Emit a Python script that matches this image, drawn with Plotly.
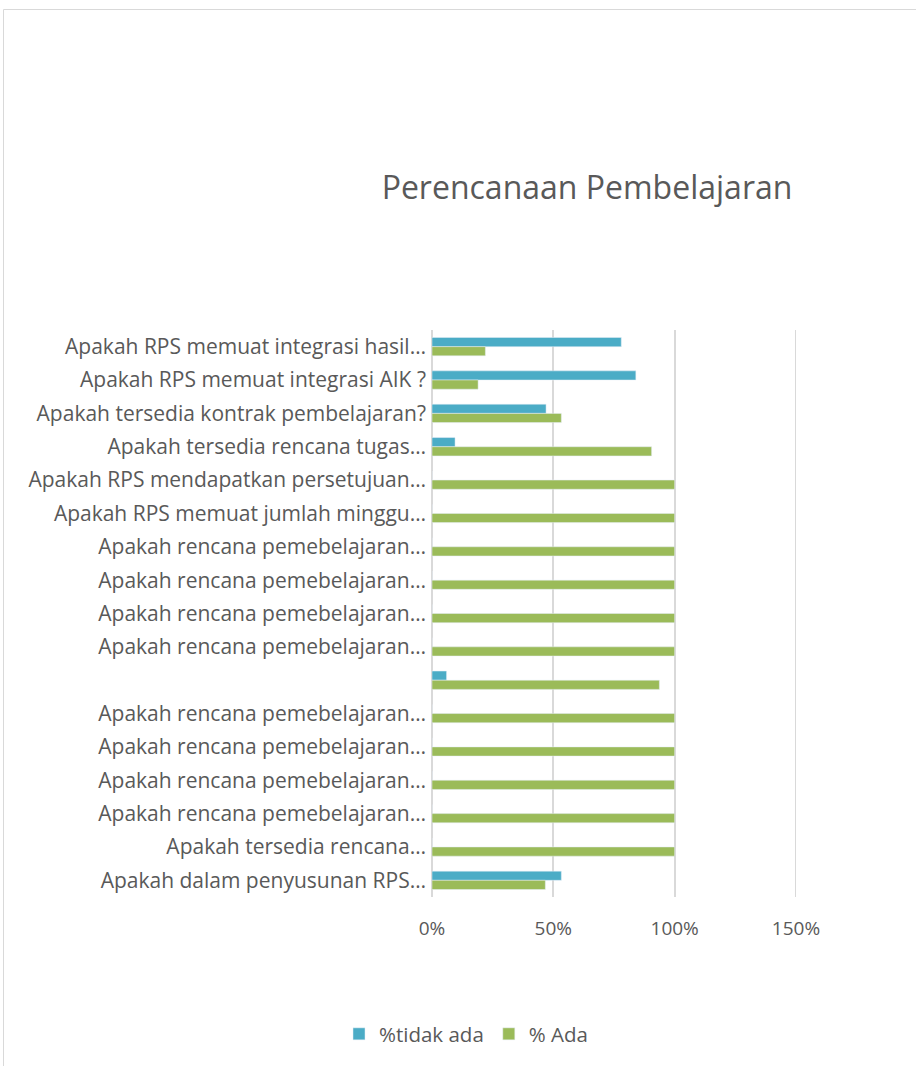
import plotly.graph_objects as go

labels = [
    "Apakah RPS memuat integrasi hasil…",
    "Apakah RPS memuat integrasi AIK ?",
    "Apakah tersedia kontrak pembelajaran?",
    "Apakah tersedia rencana tugas…",
    "Apakah RPS mendapatkan persetujuan…",
    "Apakah RPS memuat jumlah minggu…",
    "Apakah rencana pemebelajaran…",
    "Apakah rencana pemebelajaran…",
    "Apakah rencana pemebelajaran…",
    "Apakah rencana pemebelajaran…",
    "",
    "Apakah rencana pemebelajaran…",
    "Apakah rencana pemebelajaran…",
    "Apakah rencana pemebelajaran…",
    "Apakah rencana pemebelajaran…",
    "Apakah tersedia rencana…",
    "Apakah dalam penyusunan RPS…",
]
tidak_ada = [0.78, 0.84, 0.47, 0.095, 0, 0, 0, 0, 0, 0, 0.06, 0, 0, 0, 0, 0, 0.533]
ada = [0.22, 0.19, 0.533, 0.905, 1, 1, 1, 1, 1, 1, 0.937, 1, 1, 1, 1, 1, 0.467]
x_ticks = [0, 0.5, 1.0, 1.5]
x_tick_text = ["0%", "50%", "100%", "150%"]

pos = list(range(len(labels)))
font = "Open Sans, Segoe UI, sans-serif"
grey = "#595959"
gridc = "#d9d9d9"

fig = go.Figure()
fig.add_trace(go.Bar(y=pos, x=tidak_ada, orientation="h", name="%tidak ada",
                     marker=dict(color="#4BACC6")))
fig.add_trace(go.Bar(y=pos, x=ada, orientation="h", name="% Ada",
                     marker=dict(color="#9BBB59")))

W, H = 916, 1066
L, R, T, B = 432, 796, 330, 897

def px(x):
    return (x - L) / (R - L)

def py(y):
    return (B - y) / (B - T)

fig.update_layout(
    width=W, height=H,
    margin=dict(l=L, r=W - R, t=T, b=H - B, autoexpand=False),
    paper_bgcolor="white", plot_bgcolor="white",
    barmode="group", bargap=0.45, bargroupgap=0.0,
    font=dict(family=font, color=grey, size=19),
    title=dict(text="Perencanaan Pembelajaran", x=587 / W, xanchor="center",
               y=1 - 188 / H, yanchor="middle",
               font=dict(size=32, color=grey, family=font)),
    xaxis=dict(range=[0, 1.5], tickvals=x_ticks, ticktext=x_tick_text,
               showgrid=True, gridcolor=gridc, gridwidth=2,
               zeroline=False, showline=False, ticks="",
               ticklabelstandoff=18,
               tickfont=dict(size=19, color=grey)),
    yaxis=dict(tickvals=pos, ticktext=labels, autorange="reversed",
               showgrid=False, zeroline=False, ticks="", showline=False,
               ticklabelstandoff=5,
               tickfont=dict(size=21, color=grey)),
    legend=dict(orientation="h", x=px(466), xanchor="center",
                y=py(1034), yanchor="middle", font=dict(size=20.5, color=grey),
                traceorder="normal"),
    shapes=[
        dict(type="line", xref="paper", yref="paper", x0=0, x1=0, y0=0, y1=1,
             line=dict(color=gridc, width=2), layer="below"),
        dict(type="line", xref="x", yref="paper", x0=x_ticks[-1], x1=x_ticks[-1],
             y0=0, y1=1, line=dict(color=gridc, width=2), layer="below"),
        dict(type="rect", xref="paper", yref="paper",
             x0=px(3.5), x1=px(930), y0=py(1080), y1=py(9.5),
             line=dict(color=gridc, width=1), fillcolor="rgba(0,0,0,0)"),
    ],
)

fig.write_html(
    "out.html",
    config={"displayModeBar": False},
    post_script="document.body.style.margin='0';document.body.style.overflow='hidden';",
)
